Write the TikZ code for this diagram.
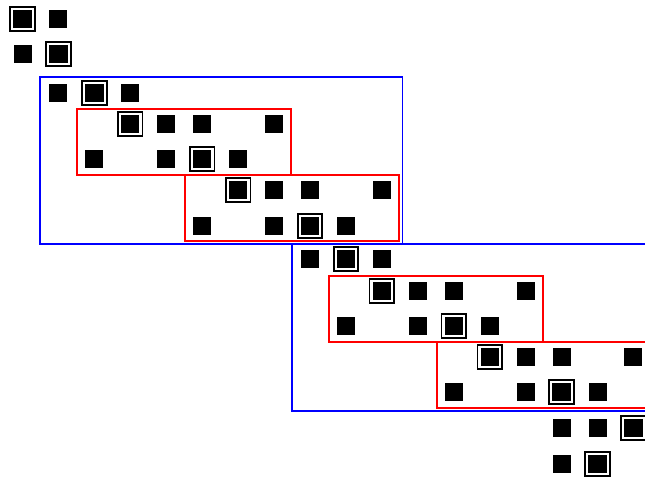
\documentclass[tikz,border=0pt]{standalone}
\usetikzlibrary{positioning}
\definecolor{frameBlue}{HTML}{0000FF}
\definecolor{frameRed}{HTML}{FF0000}

\begin{document}
\begin{tikzpicture}[x=0.75pt, y=-0.75pt,
    entry/.style={fill=black, inner sep=0pt, outer sep=0pt, minimum size=13.5pt},
    pivot/.style={entry, minimum size=15.45pt, draw=black, line width=1.3pt,
      double=white, double distance=1.7pt},
    outerframe/.style={draw=frameBlue, line width=1pt},
    innerframe/.style={draw=frameRed, line width=1pt}]
    \clip (0,0) rectangle (645,478);
    \useasboundingbox (0,0) rectangle (645,478);

    % one line per row: column/style
    \foreach \c/\s in {0/pivot,1/entry} \node[\s] (r1c\c) at ({22.5+35.94*\c},19) {};
    \foreach \c/\s in {0/entry,1/pivot} \node[\s] (r2c\c) at ({22.5+35.94*\c},54) {};
    \foreach \c/\s in {1/entry,2/pivot,3/entry} \node[\s] (r3c\c) at ({22.5+35.94*\c},93) {};
    \foreach \c/\s in {3/pivot,4/entry,5/entry,7/entry} \node[\s] (r4c\c) at ({22.5+35.94*\c},124) {};
    \foreach \c/\s in {2/entry,4/entry,5/pivot,6/entry} \node[\s] (r5c\c) at ({22.5+35.94*\c},159) {};
    \foreach \c/\s in {6/pivot,7/entry,8/entry,10/entry} \node[\s] (r6c\c) at ({22.5+35.94*\c},190) {};
    \foreach \c/\s in {5/entry,7/entry,8/pivot,9/entry} \node[\s] (r7c\c) at ({22.5+35.94*\c},226) {};
    \foreach \c/\s in {8/entry,9/pivot,10/entry} \node[\s] (r8c\c) at ({22.5+35.94*\c},259) {};
    \foreach \c/\s in {10/pivot,11/entry,12/entry,14/entry} \node[\s] (r9c\c) at ({22.5+35.94*\c},291) {};
    \foreach \c/\s in {9/entry,11/entry,12/pivot,13/entry} \node[\s] (r10c\c) at ({22.5+35.94*\c},326) {};
    \foreach \c/\s in {13/pivot,14/entry,15/entry,17/entry} \node[\s] (r11c\c) at ({22.5+35.94*\c},357) {};
    \foreach \c/\s in {12/entry,14/entry,15/pivot,16/entry} \node[\s] (r12c\c) at ({22.5+35.94*\c},392) {};
    \foreach \c/\s in {15/entry,16/entry,17/pivot} \node[\s] (r13c\c) at ({22.5+35.94*\c},428) {};
    \foreach \c/\s in {15/entry,16/pivot} \node[\s] (r14c\c) at ({22.5+35.94*\c},464) {};

    % the two blocks, second one shifted by seven columns
    \foreach \dx/\dy in {0/0, 252/167} {
      \draw[outerframe] (40+\dx,77+\dy) rectangle (402.5+\dx,244+\dy);
      \draw[innerframe] (77+\dx,109+\dy) rectangle (291+\dx,175+\dy);
      \draw[innerframe] (185+\dx,175+\dy) rectangle (399+\dx,241+\dy);
    }
  \end{tikzpicture}
\end{document}
